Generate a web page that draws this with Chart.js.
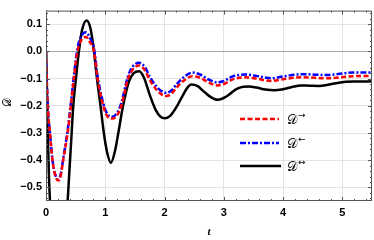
<!DOCTYPE html>
<html><head><meta charset="utf-8">
<script src="https://cdn.jsdelivr.net/npm/chart.js@4/dist/chart.umd.min.js"></script>
<style>html,body{margin:0;padding:0;background:#fff}#w{width:374px;height:240px}</style>
</head><body><div id="w"><canvas id="c" width="374" height="240"></canvas></div>
<script>
const tBlack=[0,0.015,0.03,0.05,0.067,0.1,0.15,0.21,0.27,0.32,0.365,0.40,0.43,0.46,0.51,0.555,0.61,0.685,0.75,0.81,0.86,0.92,0.976,1.03,1.094,1.16,1.22,1.30,1.40,1.48,1.57,1.65,1.75,1.85,1.93,2.0,2.1,2.2,2.3,2.38,2.45,2.56,2.65,2.78,2.9,3.05,3.21,3.33,3.42,3.55,3.7,3.85,4.0,4.15,4.3,4.45,4.6,4.8,5.06,5.25,5.5];
const dBlack=[0,-0.15,-0.3,-0.46,-0.55,-0.7,-0.82,-0.86,-0.8,-0.68,-0.55,-0.42,-0.31,-0.2,-0.09,0.0,0.08,0.114,0.085,0.0,-0.1,-0.2,-0.3,-0.37,-0.41,-0.37,-0.3,-0.2,-0.11,-0.08,-0.073,-0.095,-0.16,-0.215,-0.24,-0.246,-0.236,-0.205,-0.165,-0.135,-0.122,-0.128,-0.145,-0.168,-0.178,-0.165,-0.139,-0.13,-0.129,-0.133,-0.14,-0.143,-0.139,-0.131,-0.125,-0.126,-0.127,-0.121,-0.112,-0.111,-0.110];
const tRed=[0,0.015,0.035,0.067,0.11,0.16,0.21,0.25,0.29,0.365,0.42,0.47,0.53,0.6,0.675,0.74,0.81,0.87,0.965,1.04,1.12,1.2,1.27,1.385,1.47,1.57,1.67,1.75,1.86,1.95,2.03,2.12,2.2,2.34,2.47,2.6,2.75,2.89,3.0,3.15,3.36,3.55,3.8,4.0,4.34,4.73,5.18,5.5];
const dRed=[0,-0.12,-0.22,-0.3,-0.4,-0.46,-0.475,-0.455,-0.4,-0.3,-0.2,-0.1,0.0,0.043,0.053,0.035,0.0,-0.1,-0.2,-0.24,-0.247,-0.235,-0.2,-0.1,-0.065,-0.052,-0.07,-0.105,-0.14,-0.158,-0.164,-0.155,-0.134,-0.105,-0.091,-0.097,-0.115,-0.125,-0.12,-0.103,-0.095,-0.1,-0.109,-0.102,-0.095,-0.099,-0.091,-0.090];
const tBlue=tRed;
const dBlue=[0,-0.12,-0.22,-0.3,-0.4,-0.455,-0.47,-0.45,-0.395,-0.29,-0.19,-0.09,0.01,0.058,0.07,0.05,0.01,-0.09,-0.19,-0.232,-0.24,-0.226,-0.19,-0.09,-0.054,-0.042,-0.058,-0.093,-0.128,-0.146,-0.152,-0.143,-0.122,-0.092,-0.078,-0.085,-0.104,-0.114,-0.109,-0.092,-0.085,-0.09,-0.099,-0.092,-0.084,-0.087,-0.078,-0.078];
const xTicks=[0,1,2,3,4,5];
const xTickLabels=['0','1','2','3','4','5'];
const yTicks=[-0.5,-0.4,-0.3,-0.2,-0.1,0,0.1];
const yTickLabels=['\u22120.5','\u22120.4','\u22120.3','\u22120.2','\u22120.1','0.0','0.1'];
const legendLabels=['\u2192','\u2190','\u2194'];
const SD='\uD835\uDC9F';

const pts=(t,d)=>t.map((v,i)=>({x:v,y:d[i]}));
const frame={id:'frame',afterDraw(ch){
  const c=ch.ctx,a=ch.chartArea,xs=ch.scales.x,ys=ch.scales.y;
  c.save();
  c.strokeStyle='#555';c.lineWidth=1;
  c.strokeRect(a.left+0.5,a.top+0.5,a.right-a.left-1,a.bottom-a.top-1);
  c.beginPath();
  for(let v=0;v<=5.5001;v+=0.2){const p=Math.round(xs.getPixelForValue(v))+0.5;const maj=Math.abs(v-Math.round(v))<1e-6;const L=maj?4:2;
    c.moveTo(p,a.bottom);c.lineTo(p,a.bottom-L);c.moveTo(p,a.top);c.lineTo(p,a.top+L);}
  for(let k=-27;k<=7;k++){const v=k*0.02;const p=Math.round(ys.getPixelForValue(v))+0.5;const maj=k%5===0;const L=maj?4:2;
    c.moveTo(a.left,p);c.lineTo(a.left+L,p);c.moveTo(a.right,p);c.lineTo(a.right-L,p);}
  c.stroke();
  // legend
  const items=[{col:'#ff0000',dash:[5,2.5],y:119},{col:'#0000ff',dash:[6,2,2,2],y:143},{col:'#000',dash:[],y:166}];
  items.forEach((it,i)=>{
    c.beginPath();c.setLineDash(it.dash);c.strokeStyle=it.col;c.lineWidth=2.5;
    c.moveTo(240,it.y);c.lineTo(i===2?281:279,it.y);c.stroke();c.setLineDash([]);
    c.fillStyle='#000';c.textBaseline='alphabetic';c.textAlign='left';
    c.font='13px "DejaVu Serif", serif';c.fillText(SD,287,it.y+5);
    const w=c.measureText(SD).width;
    c.font='9px "DejaVu Sans", sans-serif';c.fillText(legendLabels[i],287+w+1,it.y-1);
  });
  // axis titles
  c.fillStyle='#000';c.textAlign='center';c.textBaseline='middle';
  c.font='italic bold 11px "Liberation Serif", serif';c.fillText('t',209,232);
  c.save();c.translate(8,102);c.rotate(-Math.PI/2);c.font='11px "DejaVu Serif", serif';c.fillText(SD,0,0);c.restore();
  c.restore();
}};
new Chart(document.getElementById('c'),{
  type:'line',
  data:{datasets:[
    {data:pts(tBlack,dBlack),borderColor:'#000',borderWidth:2.5,pointRadius:0,cubicInterpolationMode:'monotone',clip:0,order:3},
    {data:pts(tBlue,dBlue),borderColor:'#0000ff',borderWidth:2.5,borderDash:[6,2,2,2],pointRadius:0,cubicInterpolationMode:'monotone',clip:0,order:2},
    {data:pts(tRed,dRed),borderColor:'#ff0000',borderWidth:2.5,borderDash:[5,2.5],pointRadius:0,cubicInterpolationMode:'monotone',clip:0,order:1}
  ]},
  options:{responsive:false,animation:false,maintainAspectRatio:false,
    layout:{padding:{top:1,right:2,left:0,bottom:0}},
    plugins:{legend:{display:false},tooltip:{enabled:false}},
    scales:{
      x:{type:'linear',min:0,max:5.5,
        afterBuildTicks(s){s.ticks=xTicks.map(v=>({value:v}));},
        afterFit(s){s.height=39;},
        ticks:{callback:(v)=>xTickLabels[xTicks.indexOf(v)],font:{family:'"Liberation Sans"',size:11,weight:'bold'},color:'#000',padding:5,maxRotation:0},
        grid:{color:'#e4e4e4',drawTicks:false},border:{display:false}},
      y:{type:'linear',min:-0.55,max:0.15,
        afterBuildTicks(s){s.ticks=yTicks.map(v=>({value:v}));},
        afterFit(s){s.width=46;},
        ticks:{callback:(v)=>{const i=yTicks.findIndex(t=>Math.abs(t-v)<1e-9);return yTickLabels[i];},font:{family:'"Liberation Sans"',size:11,weight:'bold'},color:'#000',padding:4},
        grid:{color:(ctx)=>Math.abs(ctx.tick.value)<1e-9?'#a8a8a8':'#e4e4e4',drawTicks:false},border:{display:false}}
    }
  },
  plugins:[frame]
});
</script></body></html>
